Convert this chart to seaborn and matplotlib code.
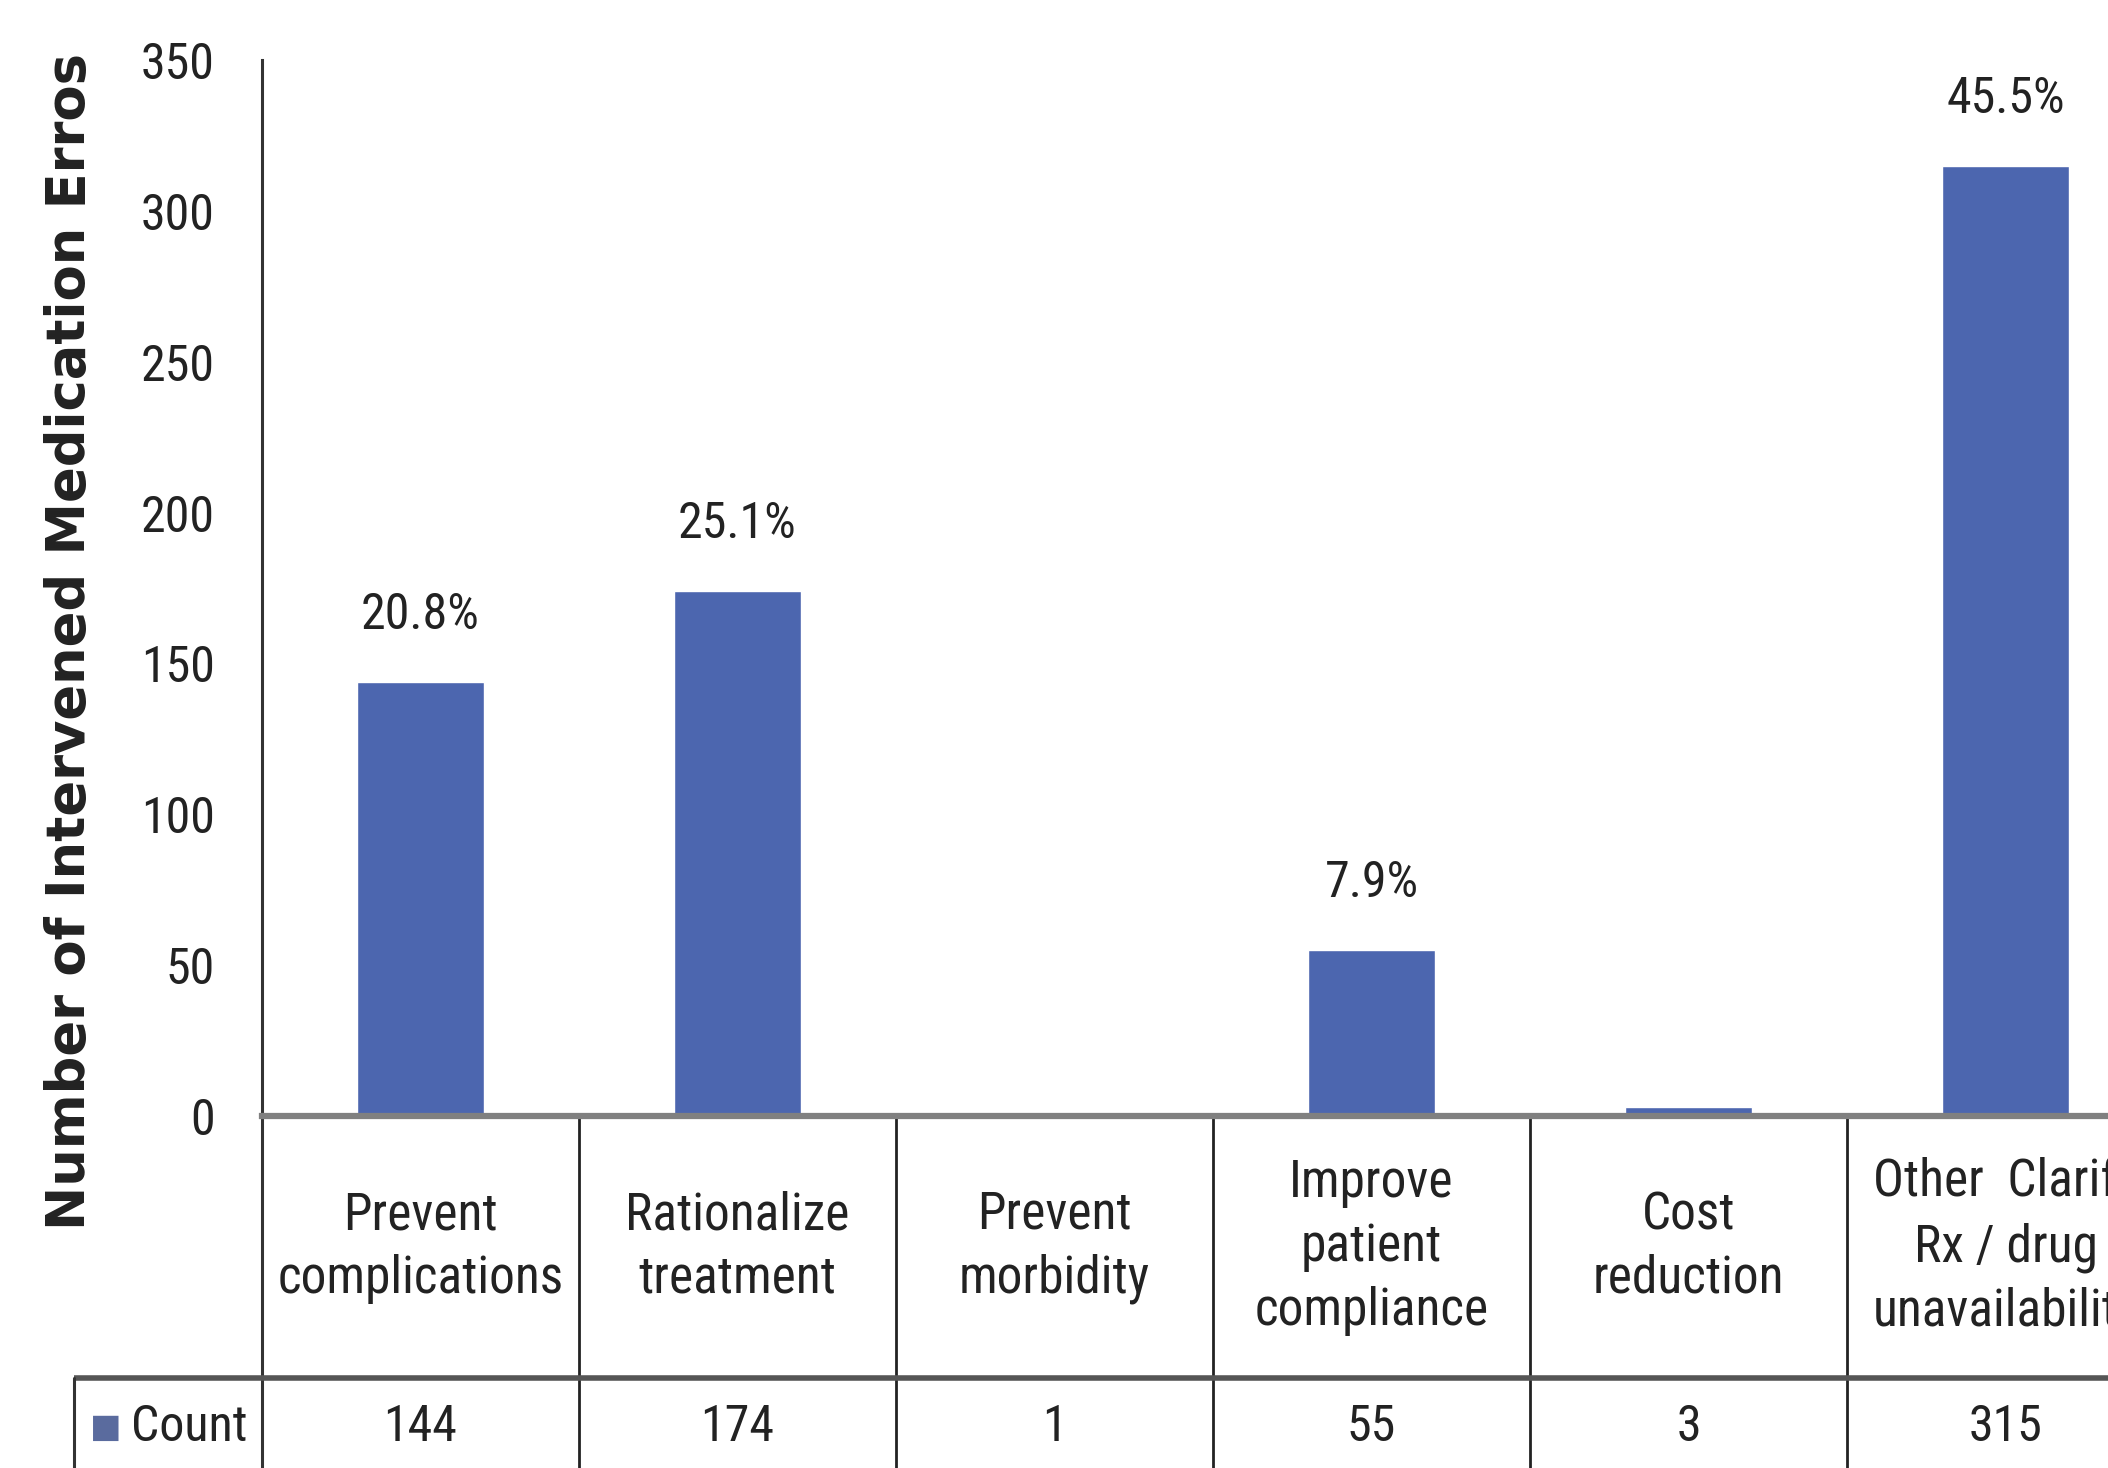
import matplotlib
matplotlib.use("Agg")
import matplotlib.pyplot as plt
from matplotlib import font_manager
import seaborn as sns
import numpy as np

# Data
categories = ["Prevent\ncomplications", "Rationalize\ntreatment", "Prevent\nmorbidity",
              "Improve\npatient\ncompliance", "Cost\nreduction",
              "Other  Clarify\nRx / drug\nunavailability"]
counts = [144, 174, 1, 55, 3, 315]
pct_labels = ["20.8%", "25.1%", "", "7.9%", "", "45.5%"]
y_ticks = [0, 50, 100, 150, 200, 250, 300, 350]

# narrow font if available
main_font = "DejaVu Sans"
for f in ["Liberation Sans Narrow", "Roboto Condensed", "Open Sans Condensed", "Lato"]:
    try:
        font_manager.findfont(f, fallback_to_default=False)
        main_font = f
        break
    except Exception:
        pass

sns.set_style("white")
plt.rcParams['font.family'] = [main_font, 'DejaVu Sans']

bar_color = "#4C66AF"

fig = plt.figure(figsize=(21.08, 14.68), dpi=100)
ax = fig.add_axes([262/2108, 352/1468, 1902/2108, 1056/1468])

sns.barplot(x=list(range(len(counts))), y=counts, color=bar_color, saturation=1,
            width=0.4, ax=ax)
ax.set_xlim(-0.5, 5.5)
ax.set_ylim(0, 350)
ax.set_yticks(y_ticks)
ax.set_yticklabels([str(t) for t in y_ticks], fontsize=36, color="#222222")
ax.set_xticks([])
ax.set_xlabel("")
ax.tick_params(axis="y", length=0, pad=34)

for s in ["top", "right"]:
    ax.spines[s].set_visible(False)
ax.spines["left"].set_color("#333333")
ax.spines["left"].set_linewidth(2.2)
ax.spines["bottom"].set_color("#808080")
ax.spines["bottom"].set_linewidth(4.5)
ax.spines["bottom"].set_zorder(5)

# percentage labels above bars
for i, (c, lab) in enumerate(zip(counts, pct_labels)):
    if lab:
        ax.annotate(lab, (i, c), xytext=(0, 48), textcoords="offset points",
                    ha="center", va="center", fontsize=36, color="#222222")

# table under the axis
trans = ax.get_xaxis_transform()
row_y = -0.248
ax.plot([-0.5, -0.5], [0, -0.36], transform=trans, color="#333333", lw=2.2, clip_on=False)
for i in range(len(categories)):
    x = i + 0.5
    ax.plot([x, x], [0, -0.36], transform=trans, color="#222222", lw=2, clip_on=False)
    ax.text(i, -0.124, categories[i], transform=trans, ha="center", va="center",
            fontsize=37, linespacing=1.35, color="#222222")
    ax.text(i, -0.2945, str(counts[i]), transform=trans, ha="center", va="center",
            fontsize=36, color="#222222")

ax.plot([-0.5 - 0.0988 * 6, 5.5], [row_y, row_y], transform=trans, color="#555555",
        lw=4, clip_on=False, solid_capstyle="butt")
ax.plot([-0.5 - 0.0988 * 6, -0.5 - 0.0988 * 6], [row_y, -0.36], transform=trans,
        color="#333333", lw=2.2, clip_on=False)
ax.text(-0.5 - 0.082 * 6, -0.2945, "■", transform=trans, ha="center", va="center",
        fontsize=24, color="#5A6B9E", family="DejaVu Sans")
ax.text(-0.5 - 0.038 * 6, -0.2945, "Count", transform=trans, ha="center", va="center",
        fontsize=36, color="#222222")

fig.text(70/2108, 1 - 641/1468, "Number of Intervened Medication Erros", rotation=90,
         ha="center", va="center", fontsize=38, fontweight="bold", family="DejaVu Sans",
         color="#222222")

fig.savefig("out.png", dpi=100)
